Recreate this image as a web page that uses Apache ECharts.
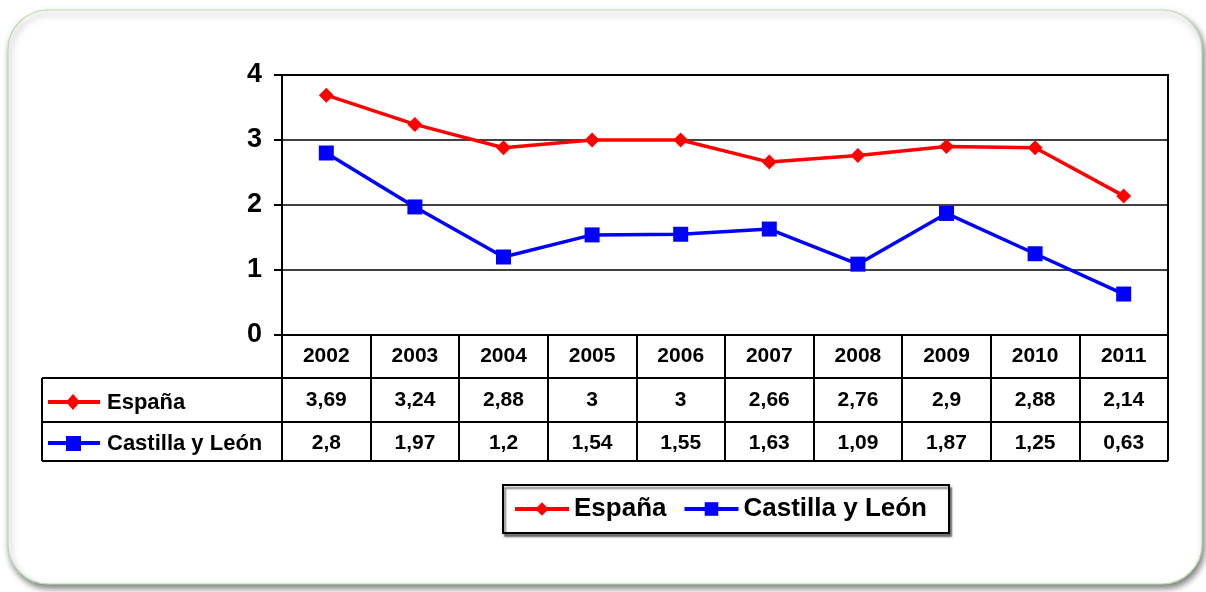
<!DOCTYPE html>
<html>
<head>
<meta charset="utf-8">
<script src="https://cdn.jsdelivr.net/npm/echarts@6/dist/echarts.min.js"></script>
<style>
html,body{margin:0;padding:0;background:#fff;}
#c{width:1206px;height:592px;}
</style>
</head>
<body>
<div id="c"></div>
<script>
var years = ['2002','2003','2004','2005','2006','2007','2008','2009','2010','2011'];
var espana = [3.69, 3.24, 2.88, 3, 3, 2.66, 2.76, 2.9, 2.88, 2.14];
var castilla = [2.8, 1.97, 1.2, 1.54, 1.55, 1.63, 1.09, 1.87, 1.25, 0.63];
var seriesNames = ['España', 'Castilla y León'];
var yTicks = [0, 1, 2, 3, 4];

var FONT = '"Liberation Sans", Arial, sans-serif';
function fmt(v){ return String(v).replace('.', ','); }

var chart = echarts.init(document.getElementById('c'));

var tableX0 = 42, axisY = 335, r1 = 378, r2 = 422, r3 = 461, plotR = 1168;

var option = {
  backgroundColor: '#fff',
  animation: false,
  textStyle: { fontFamily: FONT },
  grid: { left: 282, right: 1206 - plotR, top: 75, bottom: 592 - axisY,
          show: true, borderColor: '#000', borderWidth: 2, backgroundColor: 'transparent' },
  xAxis: {
    type: 'category',
    data: years,
    boundaryGap: true,
    axisLine: { lineStyle: { color: '#000', width: 2 } },
    axisTick: { show: true, interval: 0, length: r3 - axisY, lineStyle: { color: '#000', width: 2 } },
    axisLabel: {
      interval: 0,
      margin: 0,
      formatter: function (v, i) {
        return '{y|' + v + '}\n{e|' + fmt(espana[i]) + '}\n{c|' + fmt(castilla[i]) + '}';
      },
      rich: {
        y: { fontFamily: FONT, fontWeight: 'bold', fontSize: 21, color: '#000', lineHeight: 42, height: 42 },
        e: { fontFamily: FONT, fontWeight: 'bold', fontSize: 21, color: '#000', lineHeight: 47, height: 47 },
        c: { fontFamily: FONT, fontWeight: 'bold', fontSize: 21, color: '#000', lineHeight: 38, height: 38 }
      }
    }
  },
  yAxis: {
    type: 'value',
    min: 0, max: 4, interval: 1,
    axisLine: { show: true, lineStyle: { color: '#000', width: 2 } },
    axisTick: { show: true, length: 8, lineStyle: { color: '#000', width: 2 } },
    axisLabel: { margin: 20, fontFamily: FONT, fontWeight: 'bold', fontSize: 27, color: '#000',
                 formatter: function (v) { return yTicks.indexOf(v) >= 0 ? String(v) : ''; } },
    splitLine: { show: true, lineStyle: { color: '#000', width: 1.5 } }
  },
  legend: {
    left: 503, top: 485,
    orient: 'horizontal',
    data: seriesNames,
    itemWidth: 54, itemHeight: 17, itemGap: 16,
    padding: [11, 22, 11, 10],
    borderColor: '#000', borderWidth: 2,
    shadowColor: 'rgba(0,0,0,0.5)', shadowOffsetX: 2, shadowOffsetY: 3, shadowBlur: 2,
    backgroundColor: '#fff',
    lineStyle: { width: 4 },
    textStyle: { fontFamily: FONT, fontWeight: 'bold', fontSize: 26, color: '#000', padding: [0,0,0,0] }
  },
  series: [
    {
      name: seriesNames[0], type: 'line', data: espana,
      symbol: 'diamond', symbolSize: 15,
      lineStyle: { color: '#ff0000', width: 3.5 },
      itemStyle: { color: '#ff0000' }
    },
    {
      name: seriesNames[1], type: 'line', data: castilla,
      symbol: 'rect', symbolSize: 15,
      lineStyle: { color: '#0000ff', width: 3.5 },
      itemStyle: { color: '#0000ff' }
    }
  ],
  graphic: [
    { type: 'rect', z: -10, silent: true,
      shape: { x: 8, y: 10, width: 1194, height: 574, r: 40 },
      style: { fill: '#fff', stroke: '#b9deab', lineWidth: 1.2,
               shadowColor: 'rgba(0,0,0,0.5)', shadowBlur: 6, shadowOffsetX: 2, shadowOffsetY: 4 } },
    { type: 'line', silent: true, shape: { x1: tableX0, y1: r1, x2: plotR, y2: r1 }, style: { stroke: '#000', lineWidth: 2 } },
    { type: 'line', silent: true, shape: { x1: tableX0, y1: r2, x2: plotR, y2: r2 }, style: { stroke: '#000', lineWidth: 2 } },
    { type: 'line', silent: true, shape: { x1: tableX0, y1: r3, x2: plotR, y2: r3 }, style: { stroke: '#000', lineWidth: 2 } },
    { type: 'line', silent: true, shape: { x1: tableX0, y1: r1, x2: tableX0, y2: r3 }, style: { stroke: '#000', lineWidth: 2 } },
    // row keys
    { type: 'line', silent: true, shape: { x1: 48, y1: 402, x2: 100, y2: 402 }, style: { stroke: '#ff0000', lineWidth: 4 } },
    { type: 'polygon', silent: true, shape: { points: [[73, 394], [80, 402], [73, 410], [66, 402]] }, style: { fill: '#ff0000' } },
    { type: 'text', silent: true, x: 107, y: 403, style: { text: seriesNames[0], fontFamily: FONT, fontWeight: 'bold', fontSize: 22, fill: '#000', verticalAlign: 'middle' } },
    { type: 'line', silent: true, shape: { x1: 48, y1: 443, x2: 100, y2: 443 }, style: { stroke: '#0000ff', lineWidth: 4 } },
    { type: 'rect', silent: true, shape: { x: 66, y: 436, width: 15, height: 15 }, style: { fill: '#0000ff' } },
    { type: 'text', silent: true, x: 107, y: 444, style: { text: seriesNames[1], fontFamily: FONT, fontWeight: 'bold', fontSize: 22, fill: '#000', verticalAlign: 'middle' } }
  ]
};
chart.setOption(option);
</script>
</body>
</html>
